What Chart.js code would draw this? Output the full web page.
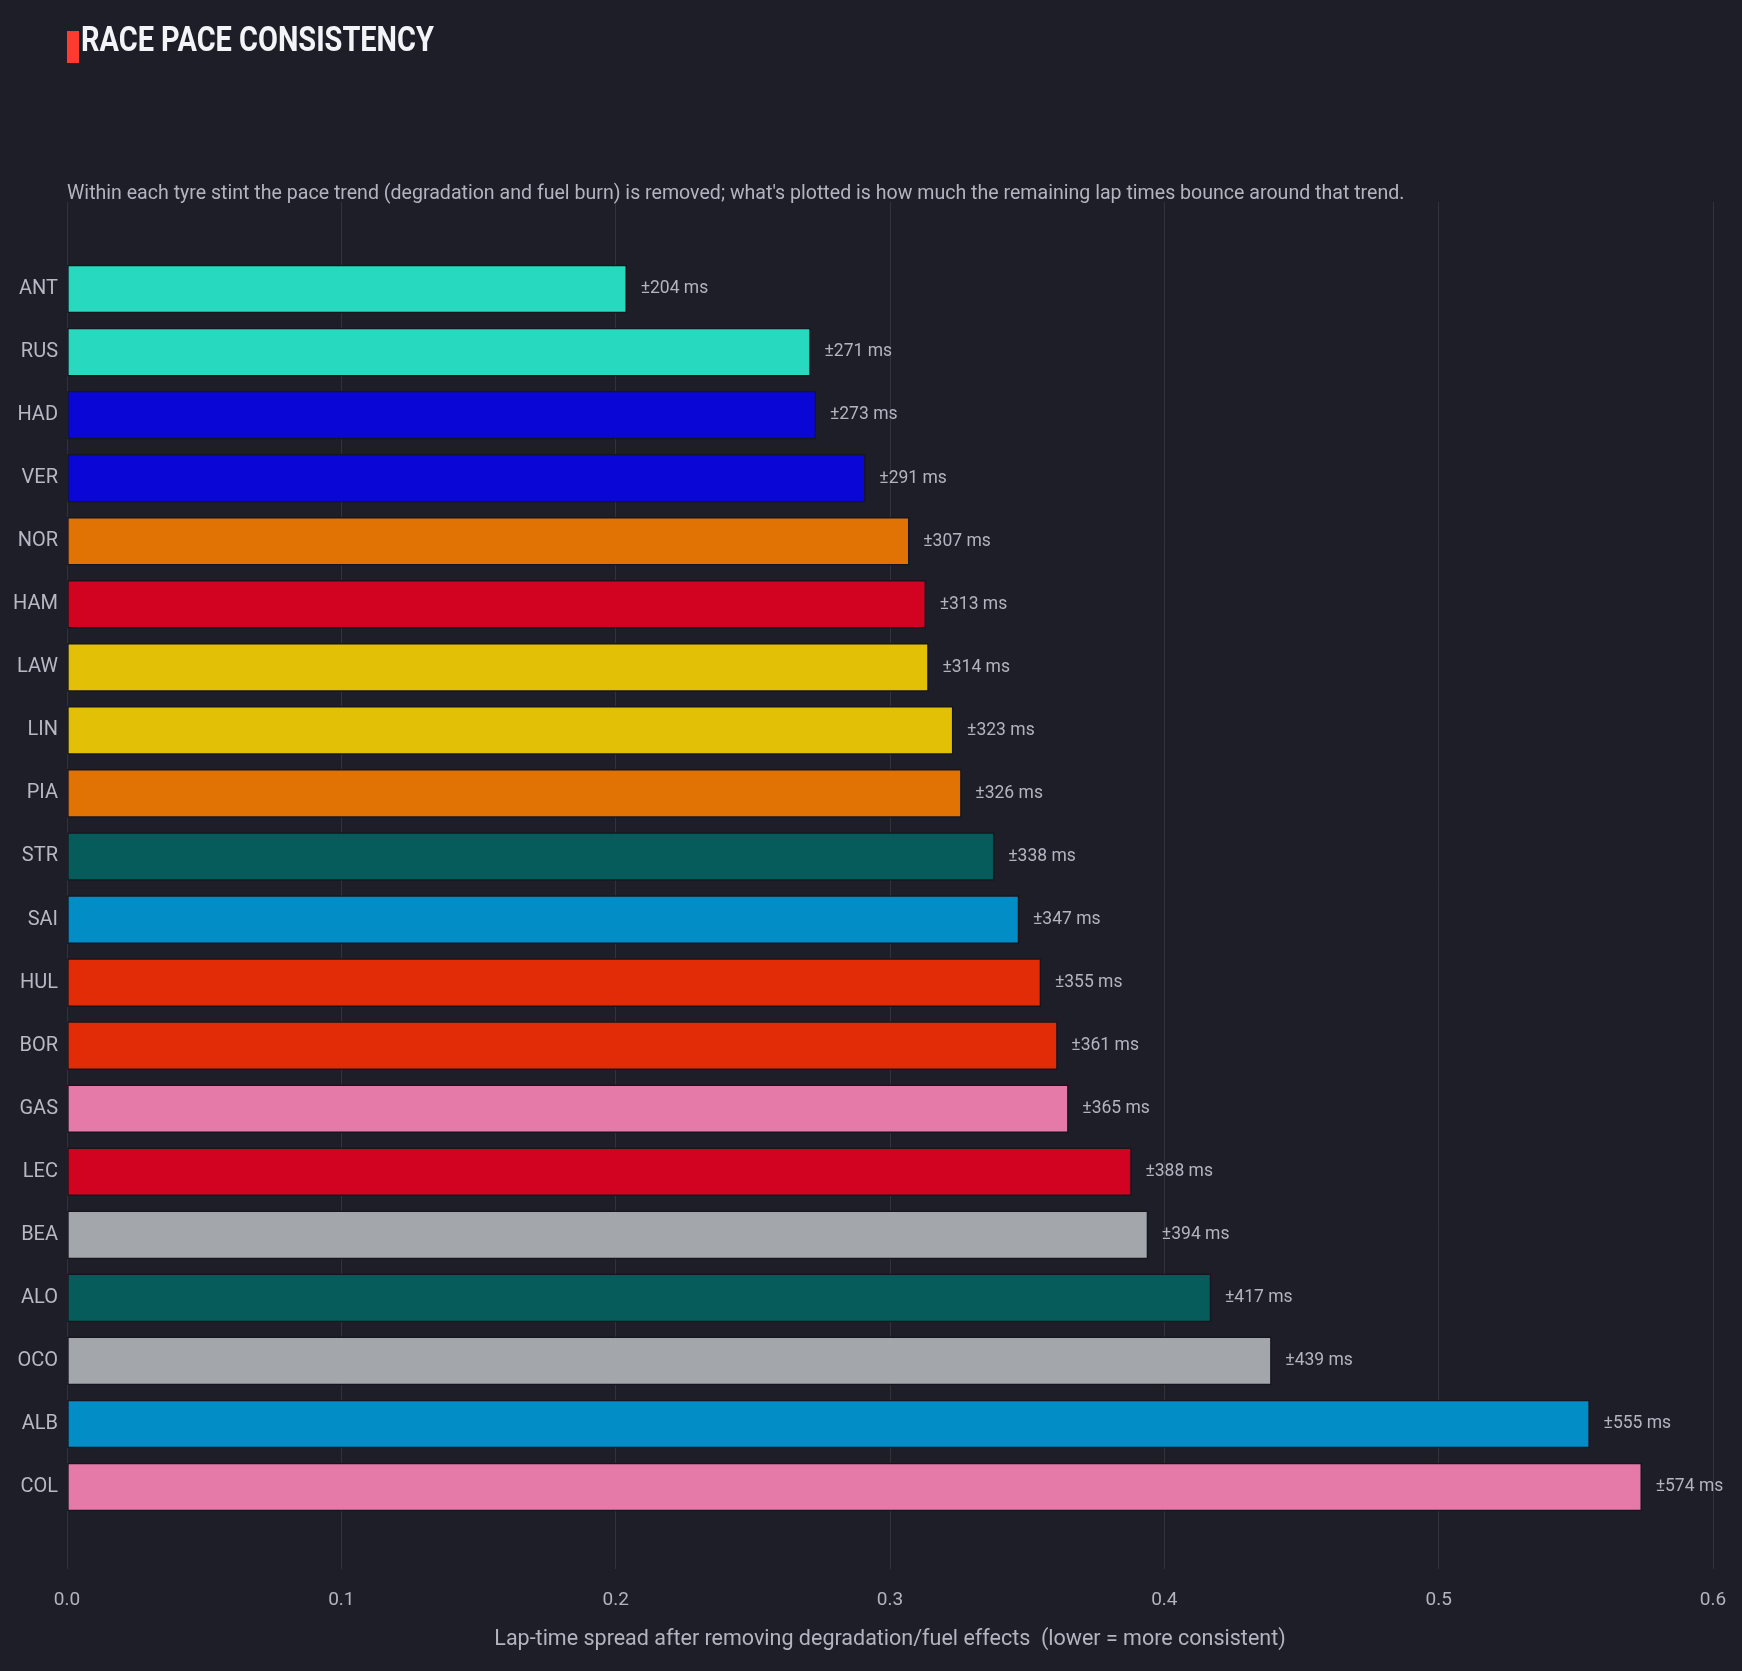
<!DOCTYPE html>
<html>
<head>
<meta charset="utf-8">
<script src="https://cdn.jsdelivr.net/npm/chart.js@4.4.1/dist/chart.umd.min.js"></script>
<style>
  html, body { margin: 0; padding: 0; background: #1e1e28; }
  body { width: 1742px; height: 1671px; position: relative; overflow: hidden;
         font-family: Roboto, "Open Sans", sans-serif; }
  #wrap { position: absolute; left: 0; top: 0; width: 1742px; height: 1671px; }
  .mark { position: absolute; left: 67px; top: 31px; width: 12px; height: 32px; background: #ff3b2f; }
  .title { position: absolute; left: 81px; top: 19px; color: #f4f4f8; font-weight: bold;
           font-size: 35px; white-space: nowrap; transform-origin: 0 0; }
  .sub { position: absolute; left: 67px; top: 180px; color: #b4b4c0; font-size: 20px;
         white-space: nowrap; transform-origin: 0 0; }
</style>
</head>
<body>
<div id="wrap"><canvas id="chart" width="1742" height="1671"></canvas></div>
<div class="mark"></div>
<div class="title" id="title">RACE PACE CONSISTENCY</div>
<div class="sub" id="sub">Within each tyre stint the pace trend (degradation and fuel burn) is removed; what's plotted is how much the remaining lap times bounce around that trend.</div>
<script>
const drivers = ['ANT', 'RUS', 'HAD', 'VER', 'NOR', 'HAM', 'LAW', 'LIN', 'PIA', 'STR',
                 'SAI', 'HUL', 'BOR', 'GAS', 'LEC', 'BEA', 'ALO', 'OCO', 'ALB', 'COL'];
const spread = [0.204, 0.271, 0.273, 0.291, 0.307, 0.313, 0.314, 0.323, 0.326, 0.338,
                0.347, 0.355, 0.361, 0.365, 0.388, 0.394, 0.417, 0.439, 0.555, 0.574];
const teamColors = ['#28e7ca', '#28e7ca', '#0904e4', '#0904e4', '#f07a02', '#df0121',
                    '#f0cc03', '#f0cc03', '#f07a02', '#036160', '#0096d4', '#f02d05',
                    '#f02d05', '#f481b3', '#df0121', '#adb1b7', '#036160', '#adb1b7',
                    '#0096d4', '#f481b3'];
const xTicks = [0, 0.1, 0.2, 0.3, 0.4, 0.5, 0.6];

const FONT = 'Roboto, "Open Sans", sans-serif';

// squeeze the header texts to the width of the condensed original
function fitWidth(id, w) {
  const el = document.getElementById(id);
  el.style.transform = 'scaleX(' + (w / el.offsetWidth) + ')';
}
fitWidth('title', 353);
fitWidth('sub', 1337);

// value labels at the end of each bar
const endLabels = {
  id: 'endLabels',
  afterDatasetsDraw(chart) {
    const ctx = chart.ctx;
    const meta = chart.getDatasetMeta(0);
    ctx.save();
    ctx.font = '17.5px ' + FONT;
    ctx.fillStyle = '#b4b4c0';
    ctx.textAlign = 'left';
    ctx.textBaseline = 'middle';
    meta.data.forEach((bar, i) => {
      ctx.fillText('±' + Math.round(spread[i] * 1000) + ' ms', bar.x + 14, bar.y);
    });
    ctx.restore();
  }
};

new Chart(document.getElementById('chart'), {
  type: 'bar',
  data: {
    datasets: [{
      data: spread.map((v, i) => ({ x: v, y: i })),
      backgroundColor: teamColors.map(c => c + 'ed'),
      borderColor: '#16161e',
      borderWidth: 1.5,
      borderSkipped: false,
      barThickness: 48
    }]
  },
  options: {
    indexAxis: 'y',
    responsive: false,
    animation: false,
    layout: { padding: { left: 0, right: 29, top: 202, bottom: 18 } },
    plugins: { legend: { display: false }, tooltip: { enabled: false } },
    scales: {
      x: {
        type: 'linear',
        min: 0,
        max: 0.6,
        afterBuildTicks: s => { s.ticks = xTicks.map(v => ({ value: v })); },
        afterFit: s => { s.height = 84; s.paddingLeft = 0; s.paddingRight = 0; },
        grid: { color: 'rgba(255,255,255,0.09)', lineWidth: 1, drawTicks: false },
        border: { display: false },
        ticks: {
          color: '#b4b4c0', padding: 20,
          font: { size: 19, family: FONT },
          callback: v => v.toFixed(1)
        },
        title: {
          display: true,
          text: 'Lap-time spread after removing degradation/fuel effects  (lower = more consistent)',
          color: '#b4b4c0',
          font: { size: 21.5, family: FONT },
          padding: { top: 2, bottom: 0 }
        }
      },
      y: {
        type: 'linear',
        reverse: true,
        offset: false,
        min: -1.38,
        max: 20.3,
        afterBuildTicks: s => { s.ticks = drivers.map((d, i) => ({ value: i })); },
        afterFit: s => { s.width = 67; },
        grid: { display: false, drawTicks: false },
        border: { display: false },
        ticks: {
          color: '#b8b8c4', padding: 9,
          font: { size: 20, family: FONT },
          callback: v => drivers[v]
        }
      }
    }
  },
  plugins: [endLabels]
});
</script>
</body>
</html>
